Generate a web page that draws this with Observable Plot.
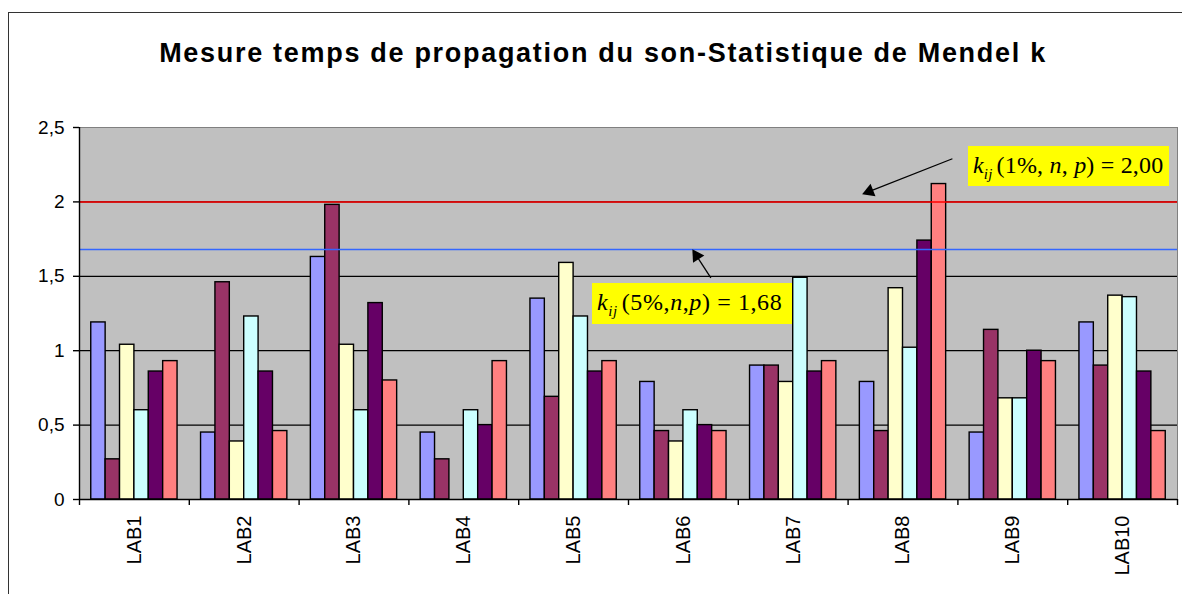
<!DOCTYPE html>
<html>
<head>
<meta charset="utf-8">
<script src="https://cdn.jsdelivr.net/npm/d3@7"></script>
<script src="https://cdn.jsdelivr.net/npm/@observablehq/plot@0.6"></script>
<style>
  html, body { margin: 0; padding: 0; background: #fff; overflow: hidden; }
  #wrap { position: relative; width: 1182px; height: 594px; overflow: hidden; font-family: Arial, "Liberation Sans", sans-serif; }
  #border { position: absolute; left: 8px; top: 12px; width: 1200px; height: 620px; border: 1.5px solid #333; box-sizing: border-box; }
  #title { position: absolute; left: 0; width: 1206px; top: 37px; line-height: 32px; text-align: center; font-weight: bold; font-size: 27px; letter-spacing: 1.7px; color: #000; }
  #chart { position: absolute; left: 0; top: 100px; }
  .ann { position: absolute; background: #ffff00; font-family: "Liberation Serif", "Times New Roman", serif; color: #000; white-space: nowrap; box-sizing: border-box; }
  .ann i { font-style: italic; }
  .ann sub { font-size: 0.62em; vertical-align: -0.4em; margin-right: 4px; }
</style>
</head>
<body>
<div id="wrap">
  <div id="border"></div>
  <div id="title">Mesure temps de propagation du son-Statistique de Mendel k</div>
  <div id="chart"></div>
  <div class="ann" style="left:968px;top:146px;width:201px;height:40px;font-size:24px;line-height:38px;padding-left:5px;letter-spacing:0.2px;"><i>k</i><sub><i>ij</i></sub>(1%, <i>n</i>, <i>p</i>) = 2,00</div>
  <div class="ann" style="left:592px;top:283px;width:200px;height:41px;font-size:24px;line-height:39px;padding-left:5px;letter-spacing:0.6px;"><i>k</i><sub><i>ij</i></sub>(5%,<i>n</i>,<i>p</i>) = 1,68</div>
</div>
<script>
// ---- data ----
const labs = ["LAB1", "LAB2", "LAB3", "LAB4", "LAB5", "LAB6", "LAB7", "LAB8", "LAB9", "LAB10"];
const serie1 = [1.19, 0.45, 1.63, 0.45, 1.35, 0.79, 0.90, 0.79, 0.45, 1.19];
const serie2 = [0.27, 1.46, 1.98, 0.27, 0.69, 0.46, 0.90, 0.46, 1.14, 0.90];
const serie3 = [1.04, 0.39, 1.04, 0.00, 1.59, 0.39, 0.79, 1.42, 0.68, 1.37];
const serie4 = [0.60, 1.23, 0.60, 0.60, 1.23, 0.60, 1.49, 1.02, 0.68, 1.36];
const serie5 = [0.86, 0.86, 1.32, 0.50, 0.86, 0.50, 0.86, 1.74, 1.00, 0.86];
const serie6 = [0.93, 0.46, 0.80, 0.93, 0.93, 0.46, 0.93, 2.12, 0.93, 0.46];
const seriesColors = ["#9999ff", "#993366", "#ffffcc", "#ccffff", "#660066", "#ff8080"];
const yTicks = [0, 0.5, 1, 1.5, 2, 2.5];
const k1pct = 2.00;   // k_ij(1%, n, p)
const k5pct = 1.68;   // k_ij(5%, n, p)
// annotation arrows (data coordinates: group index units, k value)
const arrowTails = [[7.95, 2.29], [5.75, 1.49]];
const arrowTips  = [[7.16, 2.06], [5.60, 1.66]];

// ---- build table ----
const allSeries = [serie1, serie2, serie3, serie4, serie5, serie6];
const groupPad = 0.107, barW = (1 - 2 * groupPad) / allSeries.length;
const rows = [];
allSeries.forEach((vals, s) => {
  vals.forEach((v, i) => {
    const x1 = i + groupPad + s * barW;
    rows.push({lab: labs[i], x1, x2: x1 + barW, value: v, color: seriesColors[s]});
  });
});
const arrows = arrowTails.map((t, i) => ({x1: t[0], y1: t[1], x2: arrowTips[i][0], y2: arrowTips[i][1]}));

const fmt = d => String(d).replace(".", ",");

const W = 1182, H = 494, mL = 79, mR = 5, mT = 27, mB = 95;
const pxPerX = (W - mL - mR) / 10, pxPerY = (H - mT - mB) / 2.5;
arrows.forEach(a => {
  const dx = (a.x2 - a.x1) * pxPerX, dy = -(a.y2 - a.y1) * pxPerY;
  a.rotate = Math.atan2(dx, -dy) * 180 / Math.PI;
  const len = Math.hypot(dx, dy);
  a.hx = a.x2 - (dx / len) * 4 / pxPerX;
  a.hy = a.y2 + (dy / len) * 4 / pxPerY;
});

const chart = Plot.plot({
  width: W, height: H,
  marginLeft: mL, marginRight: mR, marginTop: mT, marginBottom: mB,
  x: {domain: [0, 10], axis: null},
  y: {domain: [0, 2.5], axis: null},
  color: {type: "identity"},
  style: {fontFamily: "Arial, 'Liberation Sans', sans-serif", background: "transparent", color: "#000"},
  marks: [
    Plot.frame({fill: "#c0c0c0", stroke: "#808080"}),
    Plot.ruleY([0.5, 1, 1.5, 2], {stroke: "#000", strokeWidth: 1.2}),
    Plot.rectY(rows, {x1: "x1", x2: "x2", y: "value", fill: "color", stroke: "#000", strokeWidth: 1.4}),
    Plot.ruleY([k1pct], {stroke: "#ff0000", strokeWidth: 1.5}),
    Plot.ruleY([k5pct], {stroke: "#3366ff", strokeWidth: 1.5}),
    Plot.ruleX([0], {stroke: "#000", strokeWidth: 1.4}),
    Plot.ruleY([0], {stroke: "#000", strokeWidth: 1.4}),
    Plot.axisY({ticks: yTicks, tickFormat: fmt, tickSize: 6, tickPadding: 9, fontSize: 19, stroke: "#000", strokeWidth: 1.4}),
    Plot.axisX({ticks: d3.range(0, 11), tickFormat: () => "", tickSize: 6, stroke: "#000", strokeWidth: 1.4}),
    Plot.axisX({ticks: labs.map((d, i) => i + 0.5), tickFormat: d => labs[Math.floor(d)], tickSize: 0, tickPadding: 16, tickRotate: -90, fontSize: 20}),
    Plot.link(arrows, {x1: "x1", y1: "y1", x2: "x2", y2: "y2", stroke: "#000", strokeWidth: 1.3}),
    Plot.dot(arrows, {x: "hx", y: "hy", symbol: "triangle", r: 5, fill: "#000", stroke: "none", rotate: "rotate"})
  ]
});
document.getElementById("chart").appendChild(chart);
</script>
</body>
</html>
